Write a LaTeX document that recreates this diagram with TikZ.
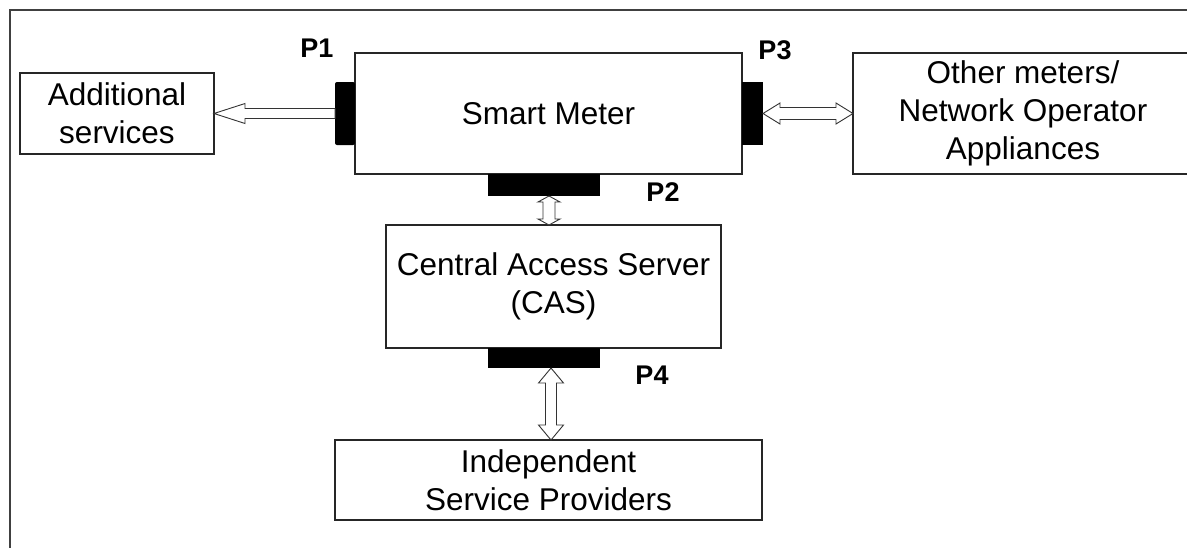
\documentclass[tikz,border=0pt]{standalone}
\usepackage{fontspec}
\setmainfont{Liberation Sans}
\usetikzlibrary{calc}
\tikzset{
  box/.style={draw=black!85, line width=1.3pt, fill=white, inner sep=0pt, outer sep=0pt,
    align=center, font=\fontsize{31.5pt}{38pt}\selectfont, anchor=north west},
  port/.style={fill=black, draw=none, inner sep=0pt, outer sep=0pt, anchor=north west},
  plabel/.style={font=\fontsize{27pt}{30pt}\selectfont\bfseries, inner sep=0pt},
  hollow/.style={draw=black!80, line width=0.9pt, fill=white, line join=miter},
  frame/.style={draw=black!75, line width=2pt},
}
% vertical double arrow: from (top), to (bottom), shaft half-width, head half-width, head length
\newcommand\vdarrow[5]{%
  \draw[hollow] let \p1=(#1), \p2=(#2) in
    (\x1,\y1) -- (\x1+#4pt,\y1-#5pt) -- (\x1+#3pt,\y1-#5pt) -- (\x1+#3pt,\y2+#5pt)
    -- (\x1+#4pt,\y2+#5pt) -- (\x1,\y2) -- (\x1-#4pt,\y2+#5pt) -- (\x1-#3pt,\y2+#5pt)
    -- (\x1-#3pt,\y1-#5pt) -- (\x1-#4pt,\y1-#5pt) -- cycle;}
% horizontal double arrow: from (left), to (right)
\newcommand\hdarrow[5]{%
  \draw[hollow] let \p1=(#1), \p2=(#2) in
    (\x1,\y1) -- (\x1+#5pt,\y1+#4pt) -- (\x1+#5pt,\y1+#3pt) -- (\x2-#5pt,\y1+#3pt)
    -- (\x2-#5pt,\y1+#4pt) -- (\x2,\y1) -- (\x2-#5pt,\y1-#4pt) -- (\x2-#5pt,\y1-#3pt)
    -- (\x1+#5pt,\y1-#3pt) -- (\x1+#5pt,\y1-#4pt) -- cycle;}
% horizontal single arrow: from (right start) to (left tip)
\newcommand\lsarrow[5]{%
  \draw[hollow] let \p1=(#1), \p2=(#2) in
    (\x2,\y1) -- (\x2+#5pt,\y1+#4pt) -- (\x2+#5pt,\y1+#3pt) -- (\x1,\y1+#3pt)
    -- (\x1,\y1-#3pt) -- (\x2+#5pt,\y1-#3pt) -- (\x2+#5pt,\y1-#4pt) -- cycle;}
\begin{document}
\begin{tikzpicture}[x=1pt,y=-1pt]
  \useasboundingbox (0,0) rectangle (1187,547);
  \clip (0,0) rectangle (1187,547);
  \fill[white] (0,0) rectangle (1187,547);
  \draw[frame] (9.5,9.5) rectangle (1200,560);

  % boxes
  \node[box, minimum width=194pt, minimum height=81pt] (add) at (20,73) {Additional\\services};
  \node[box, minimum width=387pt, minimum height=121pt] (sm) at (355,53) {Smart Meter};
  \node[box, minimum width=340pt, minimum height=121pt] (other) at (853,53)
    {Other meters/\\Network Operator\\Appliances};
  \node[box, minimum width=335pt, minimum height=123pt] (cas) at (386,225)
    {Central Access Server\\(CAS)};
  \node[box, minimum width=427pt, minimum height=80pt] (isp) at (335,440)
    {Independent\\Service Providers};

  % ports
  \node[port, minimum width=20pt, minimum height=63pt, rounded corners=2pt] (P1) at (335,82) {};
  \node[port, minimum width=21pt, minimum height=63pt] (P3) at (742,82) {};
  \node[port, minimum width=112pt, minimum height=22pt] (P2) at (488,174) {};
  \node[port, minimum width=112pt, minimum height=20pt] (P4) at (488,348) {};

  % port labels
  \node[plabel] (l1) at (317,48) {P1};
  \node[plabel] (l3) at (775,50) {P3};
  \node[plabel] (l2) at (663,192) {P2};
  \node[plabel] (l4) at (652,375) {P4};

  % connectors
  \lsarrow{P1.west}{add.east}{5}{10}{31}
  \hdarrow{P3.east}{other.west}{6}{10.5}{17}
  \vdarrow{$(P2.south)+(5,0)$}{cas.north}{6}{11}{6}
  \vdarrow{$(P4.south)+(7,0)$}{isp.north}{5.5}{12.5}{15}
\end{tikzpicture}
\end{document}
